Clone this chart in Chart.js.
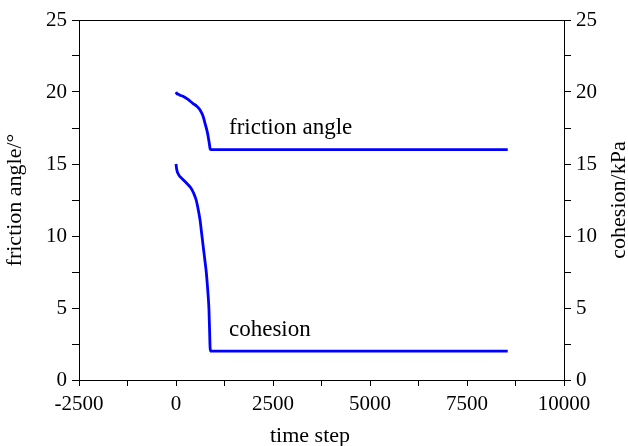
<!DOCTYPE html>
<html>
<head>
<meta charset="utf-8">
<script src="https://cdn.jsdelivr.net/npm/chart.js@4/dist/chart.umd.min.js"></script>
<style>
  html, body { margin: 0; padding: 0; background: #fff; }
  #wrap { width: 628px; height: 446px; }
</style>
</head>
<body>
<div id="wrap"><canvas id="chart" width="628" height="446"></canvas></div>
<script>
const frictionSteps = [0, 30, 60, 100, 180, 300, 440, 540, 620, 700, 750, 800, 830, 860, 880, 900, 8550];
const frictionValues = [20.0, 19.85, 19.85, 19.78, 19.7, 19.5, 19.2, 19.0, 18.75, 18.3, 17.8, 17.3, 16.9, 16.4, 16.05, 16.0, 16.0];

const cohesionSteps = [0, 20, 70, 150, 275, 380, 450, 520, 575, 620, 660, 700, 745, 780, 805, 830, 850, 865, 880, 900, 8550];
const cohesionValues = [15.0, 14.6, 14.25, 14.0, 13.66, 13.35, 13.0, 12.5, 11.8, 11.1, 10.2, 9.3, 8.3, 7.5, 6.7, 5.8, 4.86, 3.5, 2.2, 2.0, 2.0];

const curveLabels = [
  { text: "friction angle", x: 1366, y: 17.5 },
  { text: "cohesion", x: 1366, y: 3.5 },
];

const xTitle = "time step";
const yTitle = "friction angle/°";
const y2Title = "cohesion/kPa";

const FONT = "'Liberation Serif', 'Times New Roman', serif";
const toPoints = (xs, ys) => xs.map((x, i) => ({ x, y: ys[i] }));

// frame top line, axis titles and the two curve labels
const frameAndLabels = {
  id: "frameAndLabels",
  afterDraw(chart) {
    const { ctx, chartArea, scales } = chart;
    ctx.save();
    ctx.strokeStyle = "#000";
    ctx.lineWidth = 1;
    ctx.beginPath();
    ctx.moveTo(chartArea.left, chartArea.top + 0.5);
    ctx.lineTo(chartArea.right, chartArea.top + 0.5);
    ctx.stroke();

    ctx.fillStyle = "#000";
    ctx.textBaseline = "middle";
    ctx.textAlign = "left";
    ctx.font = "23px " + FONT;
    curveLabels.forEach((l) => {
      ctx.fillText(l.text, scales.x.getPixelForValue(l.x), scales.y.getPixelForValue(l.y));
    });

    ctx.font = "22px " + FONT;
    ctx.textAlign = "center";
    const midY = (chartArea.top + chartArea.bottom) / 2;
    ctx.fillText(xTitle, 310, 436);

    [[yTitle, 15], [y2Title, 619]].forEach(([t, x]) => {
      ctx.save();
      ctx.translate(x, midY);
      ctx.rotate(-Math.PI / 2);
      ctx.fillText(t, 0, 0);
      ctx.restore();
    });
    ctx.restore();
  },
};

const axisCommon = {
  border: { display: true, color: "#000", width: 1 },
  grid: { drawOnChartArea: false, drawTicks: true, tickLength: 7, color: "#000" },
};

const majorOnly = (step) => (v) => (Math.abs(v % step) < 1e-6 ? String(v) : "");

const yTicks = {
  stepSize: 2.5,
  autoSkip: false,
  color: "#000",
  padding: 5,
  font: { family: FONT, size: 21 },
  callback: majorOnly(5),
};

new Chart(document.getElementById("chart").getContext("2d"), {
  type: "line",
  data: {
    datasets: [
      {
        label: "friction angle",
        data: toPoints(frictionSteps, frictionValues),
        borderColor: "#0000ff",
        borderWidth: 2.8,
        pointRadius: 0,
        cubicInterpolationMode: "monotone",
        yAxisID: "y",
      },
      {
        label: "cohesion",
        data: toPoints(cohesionSteps, cohesionValues),
        borderColor: "#0000ff",
        borderWidth: 2.8,
        pointRadius: 0,
        cubicInterpolationMode: "monotone",
        yAxisID: "y",
      },
    ],
  },
  options: {
    responsive: false,
    animation: false,
    layout: { padding: { top: 20, right: 0, left: 0, bottom: 0 } },
    plugins: { legend: { display: false }, tooltip: { enabled: false } },
    scales: {
      x: {
        type: "linear",
        min: -2500,
        max: 10000,
        ...axisCommon,
        grid: { ...axisCommon.grid, tickLength: 6 },
        ticks: {
          stepSize: 1250,
          autoSkip: false,
          maxRotation: 0,
          color: "#000",
          padding: 6,
          font: { family: FONT, size: 21 },
          callback: majorOnly(2500),
        },
        afterFit: (s) => { s.height = 66; },
      },
      y: {
        min: 0,
        max: 25,
        position: "left",
        ...axisCommon,
        ticks: yTicks,
        afterFit: (s) => { s.width = 79; },
      },
      y2: {
        min: 0,
        max: 25,
        position: "right",
        ...axisCommon,
        ticks: yTicks,
        afterFit: (s) => { s.width = 64; },
      },
    },
  },
  plugins: [frameAndLabels],
});
</script>
</body>
</html>
